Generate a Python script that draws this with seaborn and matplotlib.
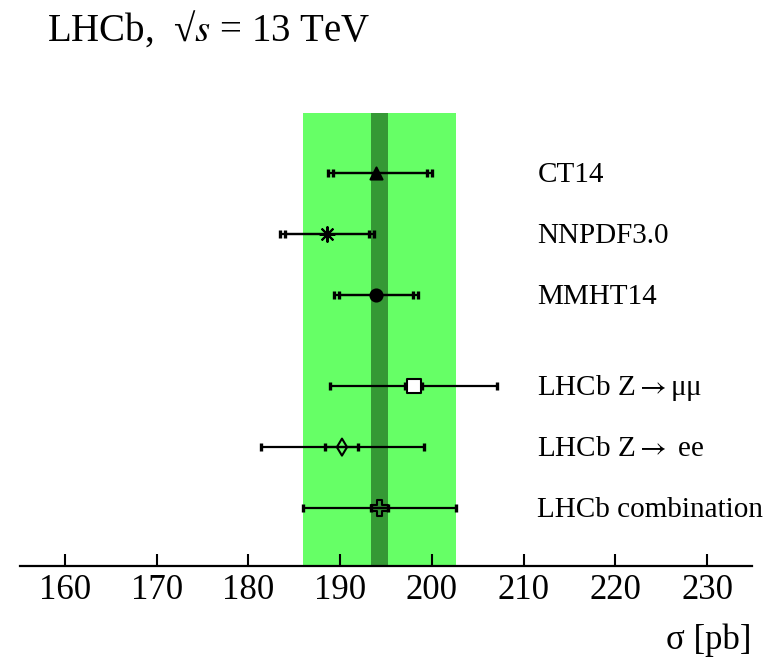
import numpy as np
import pandas as pd
import matplotlib
matplotlib.use("Agg")
import matplotlib.pyplot as plt
import seaborn as sns

# Z boson production cross-section: predictions and measurements (pb)
labels = ["CT14", "NNPDF3.0", "MMHT14",
          r"LHCb Z$\rightarrow$μμ", r"LHCb Z$\rightarrow$ ee", "LHCb combination"]
central = [193.9, 188.6, 193.9, 198.0, 190.2, 194.3]
outer_lo = [188.7, 183.4, 189.3, 188.9, 181.4, 185.9]
outer_hi = [200.0, 193.7, 198.5, 207.1, 199.1, 202.6]
inner_lo = [189.2, 184.0, 189.9, 197.1, 188.4, 193.4]
inner_hi = [199.5, 193.2, 197.9, 198.9, 192.0, 195.2]

band_total = [185.9, 202.6]   # combination, total uncertainty
band_stat = [193.4, 195.2]    # combination, statistical uncertainty

xticks = [160, 170, 180, 190, 200, 210, 220, 230]

sns.set_style("white")
plt.rcParams["font.family"] = ["Liberation Serif", "DejaVu Serif"]
plt.rcParams["mathtext.fontset"] = "stix"
plt.rcParams["text.color"] = "black"
plt.rcParams["xtick.color"] = "black"

# two groups of rows: theory predictions, then measurements
rows = np.r_[np.arange(3), np.arange(3) + 3.5]

df = pd.DataFrame({
    "label": labels,
    "sigma": central,
    "row": rows,
    "err_out_lo": np.array(central) - np.array(outer_lo),
    "err_out_hi": np.array(outer_hi) - np.array(central),
    "err_in_lo": np.array(central) - np.array(inner_lo),
    "err_in_hi": np.array(inner_hi) - np.array(central),
})

fig = plt.figure(figsize=(7.82, 6.59), dpi=100)
ax = fig.add_axes([20 / 782, 1 - 566 / 659, 732 / 782, 453 / 659])

ax.axvspan(*band_total, color="#66ff66", lw=0, zorder=0)
ax.axvspan(*band_stat, color="#359935", lw=0, zorder=1)

# total and inner error bars, each with end ticks
ax.errorbar(df["sigma"], df["row"], xerr=[df["err_out_lo"], df["err_out_hi"]],
            fmt="none", ecolor="black", elinewidth=1.6, capsize=2.6, capthick=2.4, zorder=3)
ax.errorbar(df["sigma"], df["row"], xerr=[df["err_in_lo"], df["err_in_hi"]],
            fmt="none", ecolor="black", elinewidth=1.6, capsize=2.6, capthick=2.4, zorder=3)

marker_styles = [
    dict(marker="^", s=75, facecolor="black"),
    dict(marker=(8, 2, 0), s=110, facecolor="black"),
    dict(marker="o", s=75, facecolor="black"),
    dict(marker="s", s=115, facecolor="white"),
    dict(marker="d", s=75, facecolor="none"),
    dict(marker="P", s=140, facecolor="none"),
]
for i, style in enumerate(marker_styles):
    sns.scatterplot(data=df.iloc[[i]], x="sigma", y="row", ax=ax, color="black",
                    edgecolor="black", linewidth=1.5, zorder=4, legend=False, **style)

for lab, r in zip(df["label"], df["row"]):
    ax.text(211.5, r + 0.03, lab, fontsize=21, va="center", ha="left")

ax.set_xlim(155.1, 234.9)
ax.set_ylim(6.45, -0.98)
ax.set_xticks(xticks)
ax.set_yticks([])
ax.set_xlabel("")
ax.set_ylabel("")
for side in ["left", "right", "top"]:
    ax.spines[side].set_visible(False)
ax.spines["bottom"].set_linewidth(1.6)
ax.spines["bottom"].set_color("black")
ax.tick_params(axis="x", direction="in", length=9, width=1.5, labelsize=25,
               pad=6, colors="black", bottom=True)

fig.text(47 / 782, 1 - 29 / 659, r"LHCb,  √$s$ = 13 TeV", fontsize=28,
         ha="left", va="center")
fig.text(751 / 782, 1 - 640 / 659, "σ [pb]", fontsize=25, ha="right", va="center")

fig.savefig("out.png", dpi=100)
